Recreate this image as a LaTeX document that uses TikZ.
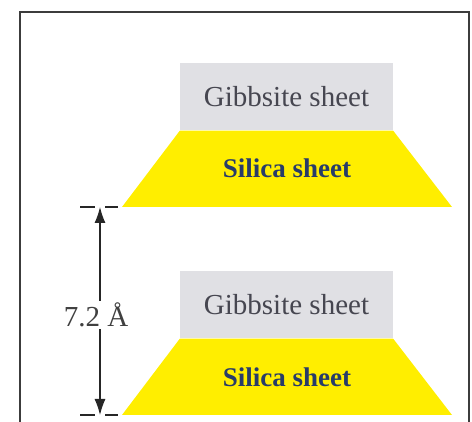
\documentclass[tikz,border=0pt]{standalone}
\usepackage{fontspec}
\setmainfont{Liberation Serif}
\usetikzlibrary{arrows.meta}

\definecolor{gibgray}{RGB}{224,224,228}
\definecolor{silyellow}{RGB}{255,238,0}
\definecolor{gibtext}{RGB}{70,70,80}
\definecolor{siltext}{RGB}{40,60,105}
\definecolor{framegray}{RGB}{60,60,60}

\begin{document}
\begin{tikzpicture}[x=1pt, y=-1pt,
    gib node/.style={rectangle, fill=gibgray, inner sep=0pt, minimum width=213pt, minimum height=67pt, text=gibtext, font=\fontsize{29}{30}\selectfont},
    sil node/.style={inner sep=0pt, text=siltext, font=\bfseries\fontsize{27}{28}\selectfont},
    tick/.style={draw=black!85, line width=1.3pt}]
    \useasboundingbox (0,0) rectangle (472,422);
    % cadre
    \draw[draw=framegray, line width=2pt] (20,422) -- (20,12) -- (469,12) -- (469,422);

    % premier feuillet
    \node[gib node] (g1) at (286.5,97) {Gibbsite sheet};
    \fill[silyellow] (g1.south west) -- (g1.south east) -- (452,207) -- (122,207) -- cycle;
    \node[sil node] (s1) at (287,168) {Silica sheet};

    % second feuillet
    \node[gib node] (g2) at (286.5,305) {Gibbsite sheet};
    \fill[silyellow] (g2.south west) -- (g2.south east) -- (452,415) -- (122,415) -- cycle;
    \node[sil node] (s2) at (287,377) {Silica sheet};

    % cote 7.2 A
    \coordinate (d1) at (100,207);
    \coordinate (d2) at (100,415);
    \draw[tick] (80,207) -- (95,207) (105,207) -- (118,207);
    \draw[tick] (80,415) -- (95,415) (105,415) -- (118,415);
    \draw[draw=black!85, line width=1.2pt, {Latex[length=16pt,width=11pt]}-{Latex[length=16pt,width=11pt]}] (d1) -- (d2);
    \node[fill=white, inner sep=2pt, text=black!75, font=\fontsize{29}{30}\selectfont] (dim) at (96,315) {7.2 Å};
\end{tikzpicture}
\end{document}
